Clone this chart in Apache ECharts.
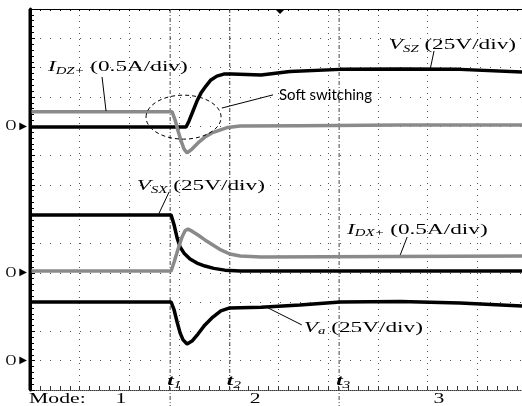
<!DOCTYPE html>
<html><head><meta charset="utf-8">
<script src="https://cdn.jsdelivr.net/npm/echarts@6/dist/echarts.min.js"></script>
<style>html,body{margin:0;padding:0;background:#fff}#c{width:522px;height:406px}</style>
</head><body><div id="c"></div>
<script>
// Oscilloscope screen: x in time divisions, y in vertical divisions (0 = bottom of screen)
const zeroLevels = [9, 4, 1];               // ground markers of the three channels
const tMarks = [2.82, 4.02, 6.22];          // t1, t2, t3
const tNames = ['1', '2', '3'];
const tExtend = [true, false, true];
const modeNames = ['Mode:', '1', '2', '3'];
const modePos = [-0.02, 1.83, 4.53, 8.23];
const screenEdge = [[0, 0], [0, 13]];       // left edge of the screen

const vSZ = [[0,8.97],[3.14,8.97],[3.20,9.18],[3.28,9.52],[3.36,9.86],[3.44,10.13],[3.54,10.37],[3.64,10.58],[3.76,10.71],[3.90,10.78],[4.06,10.78],[4.65,10.75],[5.23,10.87],[6.24,10.94],[7.45,10.95],[8.65,10.94],[9.9,10.85]];
const iDZ = [[0,9.49],[2.86,9.49],[2.92,9.21],[2.98,8.84],[3.04,8.50],[3.10,8.22],[3.16,8.09],[3.26,8.22],[3.38,8.43],[3.52,8.63],[3.66,8.77],[3.82,8.87],[3.98,8.96],[4.23,9.01],[5.43,9.02],[7.45,9.04],[9.9,9.04]];
const vSX = [[0,5.97],[2.84,5.97],[2.90,5.63],[2.96,5.19],[3.02,4.88],[3.10,4.67],[3.22,4.47],[3.36,4.33],[3.52,4.23],[3.70,4.15],[3.92,4.09],[4.23,4.06],[9.9,4.06]];
const iDX = [[0,4.06],[2.84,4.06],[2.90,4.37],[2.98,4.81],[3.06,5.22],[3.12,5.43],[3.18,5.49],[3.26,5.42],[3.38,5.29],[3.52,5.12],[3.68,4.95],[3.84,4.78],[4.02,4.64],[4.23,4.57],[4.65,4.54],[9.9,4.57]];
const vA  = [[0,3.00],[2.84,3.00],[2.90,2.73],[2.96,2.32],[3.02,1.95],[3.08,1.71],[3.16,1.57],[3.26,1.67],[3.38,1.91],[3.52,2.22],[3.68,2.49],[3.84,2.70],[4.02,2.80],[4.65,2.82],[5.43,2.90],[6.24,3.00],[7.45,3.02],[8.65,2.97],[9.9,2.87]];

const chart = echarts.init(document.getElementById('c'), null, {renderer:'canvas'});
const serif = '"Liberation Serif", "Times New Roman", serif';
const line = (d, c, w) => ({type:'line', data:d, showSymbol:false, symbol:'none', animation:false,
  lineStyle:{color:c, width:w || 3.5}, z:3});

chart.setOption({
  animation:false,
  grid:{left:30, right:0, top:9, bottom:16},
  xAxis:[
    {type:'value', min:0, max:9.9, interval:1, position:'bottom',
     axisLine:{show:true, onZero:false, lineStyle:{color:'#333', width:1, type:[1,1]}},
     axisTick:{show:true, inside:true, length:4, lineStyle:{color:'#333'}},
     minorTick:{show:true, splitNumber:5, length:4, lineStyle:{color:'#333'}},
     axisLabel:{show:false},
     splitLine:{show:true, lineStyle:{color:'#555', width:1, type:[1,5]}}},
    {type:'value', min:0, max:9.9, interval:1, position:'top',
     axisLine:{show:true, onZero:false, lineStyle:{color:'#000', width:1}},
     axisTick:{show:true, inside:true, length:2, lineStyle:{color:'#000'}},
     minorTick:{show:true, splitNumber:5, length:2, lineStyle:{color:'#000'}},
     axisLabel:{show:false}, splitLine:{show:false}}
  ],
  yAxis:{type:'value', min:0, max:13, interval:1,
     axisLine:{show:true, onZero:false, lineStyle:{color:'#000', width:3}},
     axisTick:{show:true, inside:true, length:5, lineStyle:{color:'#000'}},
     minorTick:{show:true, splitNumber:5, length:4, lineStyle:{color:'#000'}},
     splitLine:{show:true, lineStyle:{color:'#555', width:1, type:[1,9]}},
     axisLabel:{show:true, margin:3, showMinLabel:true, showMaxLabel:true,
       formatter:v => zeroLevels.includes(v) ? '{o|O}{t|▶}' : '',
       rich:{o:{fontFamily:serif, fontSize:15, color:'#000', padding:[0,3,0,0]},
             t:{fontFamily:'DejaVu Sans', fontSize:10, color:'#000'}}}},
  series:[ Object.assign(line(screenEdge,'#000',3), {clip:false, z:5}),
           line(vSZ,'#000'), line(vSX,'#000'), line(vA,'#000'),
           line(iDZ,'#8a8a8a'), line(iDX,'#8a8a8a') ]
});

const P = (x, y) => chart.convertToPixel({gridIndex:0}, [x, y]);
const SX = 1.55;
const mainT = {fontFamily:serif, fontSize:15, lineHeight:18, verticalAlign:'middle', fill:'#000'};
const mainI = Object.assign({}, mainT, {fontStyle:'italic'});
const subI = {fontFamily:serif, fontSize:9.5, fontStyle:'italic', verticalAlign:'bottom', fill:'#000'};
function label(x, y, sym, sub, rest) {
  const p = P(x, y);
  return {type:'text', x:p[0], y:p[1], scaleX:SX, z:10,
    style:{text:'{i|' + sym + '}{s|' + sub + '}{m|' + rest + '}',
      rich:{i:mainI, s:subI, m:mainT}, fill:'#000',
      align:'left', verticalAlign:'middle', textAlign:'left', textVerticalAlign:'middle'}};
}
function seg(a, b) {
  const p = P(a[0], a[1]), q = P(b[0], b[1]);
  return {type:'line', z:10, shape:{x1:p[0], y1:p[1], x2:q[0], y2:q[1]},
    style:{stroke:'#000', lineWidth:1}};
}
const g = [];
g.push(label(0.36, 11.02, 'I', 'DZ+', ' (0.5A/div)'));
g.push(label(7.22, 11.77, 'V', 'SZ', ' (25V/div)'));
g.push(label(2.15, 6.96, 'V', 'SX', ' (25V/div)'));
g.push(label(6.38, 5.46, 'I', 'DX+', ' (0.5A/div)'));
g.push(label(5.51, 2.12, 'V', 'a', ' (25V/div)'));
g.push(seg([1.45,10.68],[1.53,9.52]));
g.push(seg([8.13,11.57],[8.05,10.92]));
g.push(seg([2.80,6.76],[2.58,5.97]));
g.push(seg([7.59,5.22],[7.45,4.61]));
g.push(seg([5.47,2.22],[4.79,2.80]));
g.push(seg([3.86,9.62],[4.89,10.07]));
// soft switching ellipse
{
  const c = P(3.09, 9.31), e = P(3.09 + 0.755, 9.31 + 0.75);
  g.push({type:'ellipse', z:10, shape:{cx:c[0], cy:c[1], rx:e[0]-c[0], ry:c[1]-e[1]},
    style:{fill:'none', stroke:'#000', lineWidth:1, lineDash:[4,3]}});
  const s = P(5.01, 10.07);
  g.push({type:'text', x:s[0], y:s[1], z:10, style:{text:'Soft switching', font:'15px Lato',
    fill:'#000', align:'left', verticalAlign:'middle', textAlign:'left', textVerticalAlign:'middle'}});
}
// t markers
tMarks.forEach((t, k) => {
  const top = P(t, 13), bot = P(t, tExtend[k] ? -0.546 : 0);
  g.push({type:'line', z:2, shape:{x1:top[0], y1:top[1], x2:bot[0], y2:bot[1]},
    style:{stroke:'#444', lineWidth:1, lineDash:[4,2,1,2]}});
  const lp = P(t - 0.06, 0.31);
  g.push({type:'text', x:lp[0], y:lp[1], scaleX:SX, z:10,
    style:{text:'{t|t}{s|' + tNames[k] + '}',
      rich:{t:{fontFamily:serif, fontSize:15, fontStyle:'italic', fontWeight:'bold', lineHeight:18, verticalAlign:'middle', fill:'#000'},
            s:{fontFamily:serif, fontSize:10, fontStyle:'italic', verticalAlign:'bottom', fill:'#000'}},
      align:'left', verticalAlign:'middle', textAlign:'left', textVerticalAlign:'middle'}});
});
// mode labels
modeNames.forEach((m, k) => {
  const p = P(modePos[k], -0.31);
  g.push({type:'text', x:p[0], y:p[1], scaleX:SX, z:10,
    style:{text:m, font:'14px ' + serif, fill:'#000',
      align: k === 0 ? 'left' : 'center', verticalAlign:'middle',
      textAlign: k === 0 ? 'left' : 'center', textVerticalAlign:'middle'}});
});
// trigger marker at top
{
  const p = P(5.03, 13);
  g.push({type:'polygon', z:10, shape:{points:[[p[0]-5,p[1]],[p[0]+5,p[1]],[p[0],p[1]+5]]},
    style:{fill:'#000'}});
}
chart.setOption({graphic:g});
</script></body></html>
